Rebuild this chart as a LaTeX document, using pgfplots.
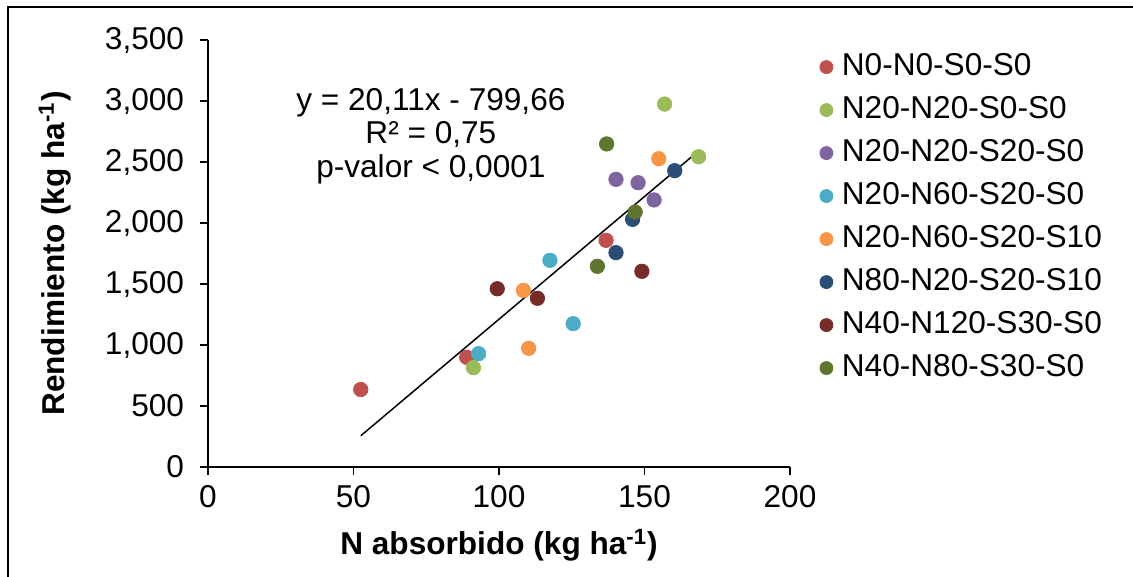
\documentclass[border=0pt]{standalone}
\usepackage{fontspec}
\setmainfont{Liberation Sans}
\usepackage{pgfplots}
\pgfplotsset{compat=1.18}
\definecolor{cA}{HTML}{C0504D}
\definecolor{cB}{HTML}{9BBB59}
\definecolor{cC}{HTML}{8064A2}
\definecolor{cD}{HTML}{4BACC6}
\definecolor{cE}{HTML}{F79646}
\definecolor{cF}{HTML}{2C4D75}
\definecolor{cG}{HTML}{772C2A}
\definecolor{cH}{HTML}{5F7530}
\pgfplotsset{pt/.style={only marks, mark=*, mark size=3.6pt, color=#1, mark options={draw=#1, fill=#1}}}
\begin{document}
\fontsize{15.8}{19}\selectfont
\begin{tikzpicture}
\useasboundingbox (0,0) rectangle (566.5pt,288.5pt);
\fill[white] (0,0) rectangle (566.5pt,288.5pt);
\draw[line width=1pt] (4pt,0) -- (4pt,285pt) -- (566.5pt,285pt);
\begin{axis}[
  at={(104pt,55pt)}, anchor=south west,
  scale only axis, width=291pt, height=213.5pt,
  xmin=0, xmax=200, ymin=0, ymax=3500,
  axis x line*=bottom, axis y line*=left,
  axis line style={line width=0.75pt, black},
  xtick={0,50,...,200}, ytick={0,500,...,3500},
  tick align=outside, major tick length=4pt,
  tick style={line width=0.75pt, black},
  yticklabel style={xshift=-2.5pt},
  /pgf/number format/assume math mode=true,
  /pgf/number format/1000 sep={,},
  scaled y ticks=false,
  xlabel={\textbf{N absorbido (kg ha\textsuperscript{-1})}},
  ylabel={\textbf{Rendimiento (kg ha\textsuperscript{-1})}},
  every axis x label/.style={at={(axis description cs:0.5,-0.1827)}, anchor=center},
  every axis y label/.style={at={(axis description cs:-0.263,0.5)}, anchor=center, rotate=90},
  legend style={at={(1.0507,0.975)}, anchor=north west, draw=none, fill=none, inner sep=0pt,
    row sep=5.5pt, column sep=4.5pt, nodes={inner sep=0pt, text height=12pt, text depth=4pt}},
  legend cell align=left,
  legend image code/.code={\draw[mark repeat=2, mark phase=2, #1, mark size=3.25pt] plot coordinates {(0pt,0pt) (3.25pt,0pt) (6.5pt,0pt)};},
]
\addplot[pt=cA] coordinates {(52.5,635) (88.9,899) (136.8,1858)};
\addlegendentry{N0-N0-S0-S0}
\addplot[pt=cB] coordinates {(91.2,814) (156.9,2975) (168.6,2543)};
\addlegendentry{N20-N20-S0-S0}
\addplot[pt=cC] coordinates {(140.2,2358) (147.8,2330) (153.3,2189)};
\addlegendentry{N20-N20-S20-S0}
\addplot[pt=cD] coordinates {(93.0,929) (117.5,1694) (125.5,1175)};
\addlegendentry{N20-N60-S20-S0}
\addplot[pt=cE] coordinates {(108.4,1448) (110.2,973) (154.9,2527)};
\addlegendentry{N20-N60-S20-S10}
\addplot[pt=cF] coordinates {(140.2,1757) (145.9,2030) (160.4,2429)};
\addlegendentry{N80-N20-S20-S10}
\addplot[pt=cG] coordinates {(99.4,1461) (113.2,1383) (149.1,1604)};
\addlegendentry{N40-N120-S30-S0}
\addplot[pt=cH] coordinates {(133.8,1645) (137.0,2648) (146.8,2090)};
\addlegendentry{N40-N80-S30-S0}
\addplot[black, no marks, line width=0.75pt, forget plot] coordinates {(52.5,256) (168.6,2591)};
\node[align=center, font={\fontsize{15.8}{16.75}\selectfont}] at (axis cs:76.6,2713) {y = 20,11x - 799,66\\R² = 0,75\\p-valor < 0,0001};
\end{axis}
\end{tikzpicture}
\end{document}
